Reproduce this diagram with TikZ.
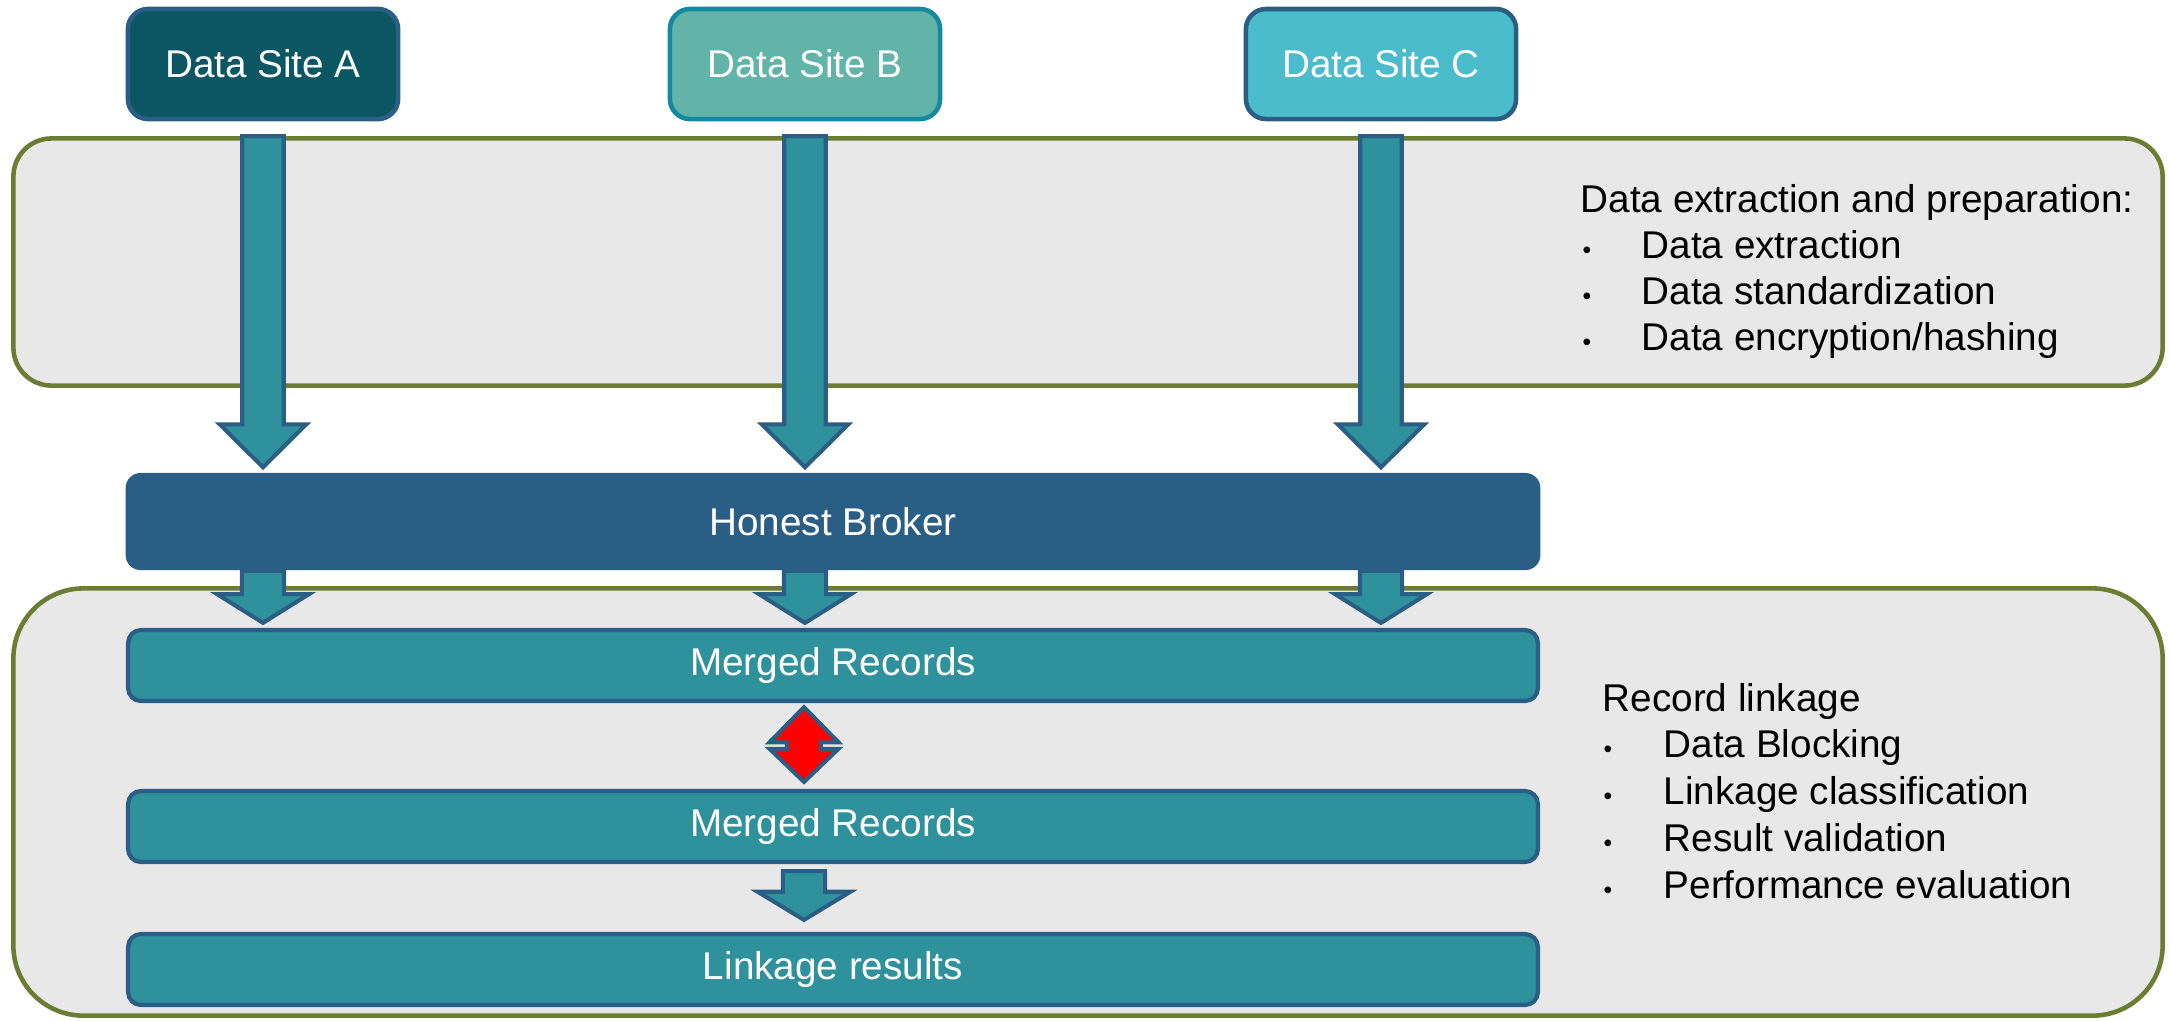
\documentclass[tikz,border=0pt]{standalone}
\usepackage{fontspec}
\setmainfont{Liberation Sans}
\usetikzlibrary{calc}
\definecolor{siteAfill}{HTML}{0B5663}
\definecolor{siteBfill}{HTML}{62B3A8}
\definecolor{siteBline}{HTML}{138AA1}
\definecolor{siteCfill}{HTML}{4BBCCB}
\definecolor{navy}{HTML}{2B5E85}
\definecolor{tealfill}{HTML}{2E919C}
\definecolor{panelfill}{HTML}{E8E8E8}
\definecolor{olive}{HTML}{6A7D33}
\definecolor{redfill}{HTML}{FF0000}

\newcommand{\blockarrow}[5]{%
  \draw[blockarr] let \p1=(#1), \p2=(#2) in
    (\x1-#3,\y1) -- (\x1-#3,\y2+#5) -- (\x1-#4,\y2+#5) -- (\x1,\y2)
    -- (\x1+#4,\y2+#5) -- (\x1+#3,\y2+#5) -- (\x1+#3,\y1) -- cycle;}

\newcommand{\dblarrow}[6]{%
  \draw[blockarr,fill=redfill] let \p1=(#1), \p2=(#2) in
    (\x1,\y1) -- (\x1+#4,\y1-#5) -- (\x1+#3,\y1-#5) -- (\x1+#3,\y2+#6)
    -- (\x1+#4,\y2+#6) -- (\x1,\y2) -- (\x1-#4,\y2+#6) -- (\x1-#3,\y2+#6)
    -- (\x1-#3,\y1-#5) -- (\x1-#4,\y1-#5) -- cycle;}

\begin{document}
\begin{tikzpicture}[x=0.01cm,y=-0.01cm,
  panelbox/.style={draw=olive,fill=panelfill,line width=1.3pt,rounded corners=#1,
    minimum width=21.48cm,inner sep=0pt},
  sitebox/.style={line width=1.3pt,rounded corners=0.2cm,minimum width=2.7cm,
    minimum height=1.1cm,inner sep=0pt,text=white,font=\fontsize{11}{13}\selectfont},
  brokerbox/.style={fill=navy,rounded corners=0.15cm,minimum width=14.14cm,
    minimum height=0.97cm,inner sep=0pt,text=white,font=\fontsize{11}{13}\selectfont},
  recbox/.style={draw=navy,fill=tealfill,line width=1.2pt,rounded corners=0.13cm,
    minimum width=14.09cm,minimum height=0.71cm,inner sep=0pt,text=white,
    font=\fontsize{11}{13}\selectfont},
  blockarr/.style={draw=navy,fill=tealfill,line width=1.15pt,line join=miter},
  listtext/.style={inner sep=0pt,anchor=base west,text=black,font=\fontsize{11}{13}\selectfont},
  bulletmark/.style={inner sep=0pt,anchor=base west,text=black,font=\fontsize{7}{8}\selectfont}
]
\useasboundingbox (0,0) rectangle (2172,1020);

% panels
\node[panelbox=0.38cm,minimum height=2.47cm] (toppanel) at (1088,262) {};
\node[panelbox=0.7cm,minimum height=4.27cm] (botpanel) at (1088,802) {};

% data sites
\node[sitebox,draw=navy,fill=siteAfill] (siteA) at (263,64) {Data Site A};
\node[sitebox,draw=siteBline,fill=siteBfill] (siteB) at (805,64) {Data Site B};
\node[sitebox,draw=navy,fill=siteCfill] (siteC) at (1381,64) {Data Site C};

% honest broker
\node[brokerbox] (broker) at (833,521.5) {Honest Broker};

% big arrows
\foreach \s in {siteA,siteB,siteC}{
  \coordinate (\s-top) at (\s.south |- toppanel.north);
  \coordinate (\s-tip) at ($(\s.south |- broker.north)+(0,-5)$);
  \blockarrow{\s-top}{\s-tip}{5.9pt}{12.3pt}{12.2pt}
}

% record boxes
\node[recbox] (mr1) at (833,665.5) {Merged Records};
\node[recbox] (mr2) at (833,826.5) {Merged Records};
\node[recbox] (lr) at (833,969.5) {Linkage results};

% small arrows from broker
\foreach \s in {siteA,siteB,siteC}{
  \coordinate (\s-bs) at (\s.south |- broker.south);
  \coordinate (\s-bt) at ($(\s.south |- mr1.north)+(0,-5)$);
  \blockarrow{\s-bs}{\s-bt}{6pt}{13.1pt}{8.2pt}
}

% red double arrow
\coordinate (dtop) at ($(siteB.south |- mr1.south)+(-1,4)$);
\coordinate (dbot) at ($(siteB.south |- mr2.north)+(-1,-7)$);
\dblarrow{dtop}{dbot}{4.8pt}{9.8pt}{10pt}{9.4pt}

% arrow merged records -> linkage results
\coordinate (m2s) at ($(siteB.south |- mr2.south)+(-1,7)$);
\coordinate (lrt) at ($(siteB.south |- lr.north)+(-1,-12)$);
\blockarrow{m2s}{lrt}{6pt}{13.2pt}{8pt}

% top list
\node[listtext] (h1) at (1580,212) {Data extraction and preparation:};
\foreach \t [count=\i] in {Data extraction,Data standardization,Data encryption/hashing}{
  \node[bulletmark] (tb\i) at (1582,212+\i*46.3) {•};
  \node[listtext] (ti\i) at (1641,212+\i*46.3) {\t};
}

% bottom list
\node[listtext] (h2) at (1602,711) {Record linkage};
\foreach \t [count=\i] in {Data Blocking,Linkage classification,Result validation,Performance evaluation}{
  \node[bulletmark] (bb\i) at (1603,711+\i*46.8) {•};
  \node[listtext] (bi\i) at (1663,711+\i*46.8) {\t};
}
\end{tikzpicture}
\end{document}
